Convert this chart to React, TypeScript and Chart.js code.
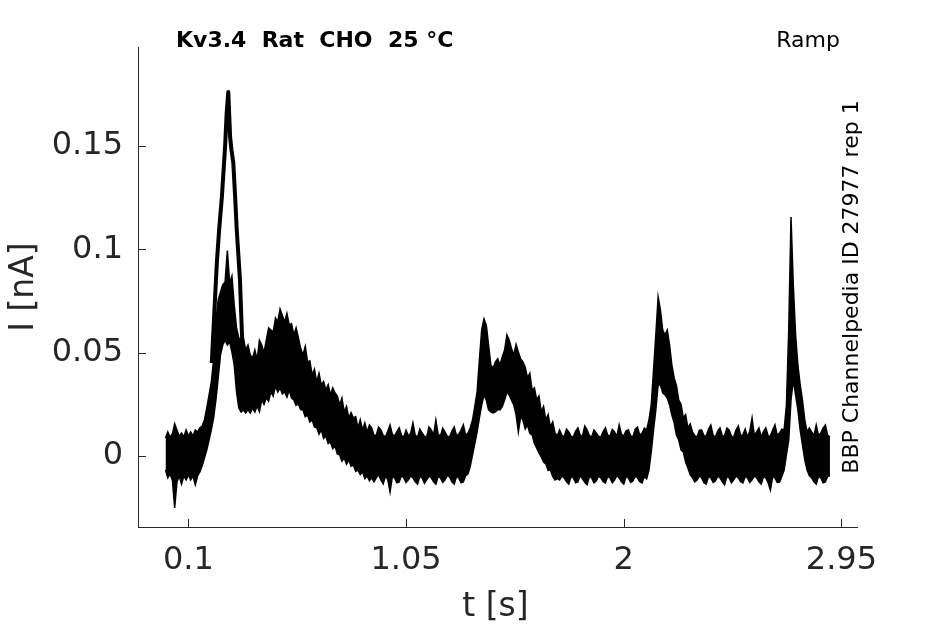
import { useEffect, useRef } from "react";
import { Chart, registerables } from "chart.js";

Chart.register(...registerables);

// ---- data ----
// sample times [s]
const time = [
  0.0, 0.01, 0.02, 0.03, 0.04, 0.05, 0.06, 0.07, 0.08, 0.09,
  0.1, 0.11, 0.12, 0.13, 0.14, 0.15, 0.16, 0.17, 0.18, 0.19,
  0.2, 0.21, 0.22, 0.23, 0.24, 0.25, 0.26, 0.27, 0.28, 0.29,
  0.3, 0.31, 0.32, 0.33, 0.34, 0.35, 0.36, 0.37, 0.38, 0.39,
  0.4, 0.41, 0.42, 0.43, 0.44, 0.45, 0.46, 0.47, 0.48, 0.49,
  0.5, 0.51, 0.52, 0.53, 0.54, 0.55, 0.56, 0.57, 0.58, 0.59,
  0.6, 0.61, 0.62, 0.63, 0.64, 0.65, 0.66, 0.67, 0.68, 0.69,
  0.7, 0.71, 0.72, 0.73, 0.74, 0.75, 0.76, 0.77, 0.78, 0.79,
  0.8, 0.81, 0.82, 0.83, 0.84, 0.85, 0.86, 0.87, 0.88, 0.89,
  0.9, 0.91, 0.92, 0.93, 0.94, 0.95, 0.96, 0.97, 0.98, 0.99,
  1.0, 1.01, 1.02, 1.03, 1.04, 1.05, 1.06, 1.07, 1.08, 1.09,
  1.1, 1.11, 1.12, 1.13, 1.14, 1.15, 1.16, 1.17, 1.18, 1.19,
  1.2, 1.21, 1.22, 1.23, 1.24, 1.25, 1.26, 1.27, 1.28, 1.29,
  1.3, 1.31, 1.32, 1.33, 1.34, 1.35, 1.36, 1.37, 1.38, 1.39,
  1.4, 1.41, 1.42, 1.43, 1.44, 1.45, 1.46, 1.47, 1.48, 1.49,
  1.5, 1.51, 1.52, 1.53, 1.54, 1.55, 1.56, 1.57, 1.58, 1.59,
  1.6, 1.61, 1.62, 1.63, 1.64, 1.65, 1.66, 1.67, 1.68, 1.69,
  1.7, 1.71, 1.72, 1.73, 1.74, 1.75, 1.76, 1.77, 1.78, 1.79,
  1.8, 1.81, 1.82, 1.83, 1.84, 1.85, 1.86, 1.87, 1.88, 1.89,
  1.9, 1.91, 1.92, 1.93, 1.94, 1.95, 1.96, 1.97, 1.98, 1.99,
  2.0, 2.01, 2.02, 2.03, 2.04, 2.05, 2.06, 2.07, 2.08, 2.09,
  2.1, 2.11, 2.12, 2.13, 2.14, 2.15, 2.16, 2.17, 2.18, 2.19,
  2.2, 2.21, 2.22, 2.23, 2.24, 2.25, 2.26, 2.27, 2.28, 2.29,
  2.3, 2.31, 2.32, 2.33, 2.34, 2.35, 2.36, 2.37, 2.38, 2.39,
  2.4, 2.41, 2.42, 2.43, 2.44, 2.45, 2.46, 2.47, 2.48, 2.49,
  2.5, 2.51, 2.52, 2.53, 2.54, 2.55, 2.56, 2.57, 2.58, 2.59,
  2.6, 2.61, 2.62, 2.63, 2.64, 2.65, 2.66, 2.67, 2.68, 2.69,
  2.7, 2.71, 2.72, 2.73, 2.74, 2.75, 2.76, 2.77, 2.78, 2.79,
  2.8, 2.81, 2.82, 2.83, 2.84, 2.85, 2.86, 2.87, 2.88, 2.89,
  2.9,
];

// upper envelope of the recorded sweeps [nA]
const upperCurrent = [
  0.0087, 0.0116, 0.0092, 0.0106, 0.0155, 0.0126, 0.0097, 0.0111, 0.0092, 0.0126,
  0.0097, 0.0116, 0.0097, 0.0126, 0.0116, 0.0136, 0.0145, 0.0174, 0.0232, 0.0295,
  0.0358, 0.0465, 0.0658, 0.0755, 0.0794, 0.0828, 0.0842, 0.0995, 0.0837, 0.0871,
  0.0731, 0.062, 0.0571, 0.0561, 0.0571, 0.0513, 0.0537, 0.0489, 0.0474, 0.0513,
  0.0465, 0.056, 0.0537, 0.05, 0.0561, 0.062, 0.061, 0.06, 0.0668, 0.065,
  0.0712, 0.068, 0.0649, 0.069, 0.0634, 0.064, 0.0586, 0.062, 0.0571, 0.052,
  0.0489, 0.053, 0.0455, 0.046, 0.0392, 0.042, 0.0358, 0.04, 0.0344, 0.036,
  0.0319, 0.0345, 0.0295, 0.033, 0.0305, 0.029, 0.0247, 0.028, 0.0213, 0.024,
  0.0184, 0.021, 0.0184, 0.019, 0.0136, 0.0175, 0.0126, 0.016, 0.0116, 0.015,
  0.0136, 0.0098, 0.0102, 0.014, 0.0126, 0.01, 0.0092, 0.012, 0.015, 0.0105,
  0.0097, 0.0118, 0.0136, 0.01, 0.0092, 0.0125, 0.0097, 0.011, 0.016, 0.01,
  0.0092, 0.013, 0.0111, 0.0095, 0.0092, 0.014, 0.0126, 0.01, 0.0174, 0.0105,
  0.0097, 0.0135, 0.0116, 0.0095, 0.0092, 0.012, 0.014, 0.0098, 0.0106, 0.0125,
  0.015, 0.01, 0.0111, 0.0135, 0.0174, 0.024, 0.031, 0.0465, 0.061, 0.0663,
  0.0634, 0.0537, 0.044, 0.0426, 0.0455, 0.047, 0.044, 0.048, 0.0513, 0.0586,
  0.0561, 0.052, 0.0489, 0.054, 0.0503, 0.047, 0.0455, 0.043, 0.0378, 0.04,
  0.0319, 0.033, 0.0271, 0.029, 0.0213, 0.024, 0.0174, 0.02, 0.014, 0.0165,
  0.0111, 0.0098, 0.0126, 0.01, 0.0092, 0.013, 0.0116, 0.0095, 0.0092, 0.012,
  0.0136, 0.01, 0.0097, 0.0145, 0.0126, 0.0098, 0.0092, 0.0125, 0.0111, 0.0095,
  0.0092, 0.0118, 0.0136, 0.01, 0.0097, 0.0128, 0.0116, 0.0095, 0.015, 0.0105,
  0.0097, 0.012, 0.0126, 0.0098, 0.0092, 0.013, 0.014, 0.01, 0.0111, 0.0135,
  0.0126, 0.0174, 0.0247, 0.0416, 0.0586, 0.077, 0.0707, 0.061, 0.0586, 0.061,
  0.0537, 0.044, 0.0378, 0.034, 0.0271, 0.025, 0.0184, 0.02, 0.0136, 0.0155,
  0.0116, 0.0098, 0.0092, 0.0125, 0.0126, 0.0098, 0.0097, 0.013, 0.015, 0.01,
  0.0092, 0.012, 0.0136, 0.0098, 0.0097, 0.0135, 0.0126, 0.0095, 0.0092, 0.0125,
  0.0145, 0.01, 0.0102, 0.013, 0.0092, 0.012, 0.0184, 0.01, 0.0116, 0.0135,
  0.0092, 0.0118, 0.0136, 0.0098, 0.0097, 0.0125, 0.015, 0.01, 0.0111, 0.013,
  0.0126, 0.0247, 0.061, 0.1157, 0.0828, 0.0586, 0.044, 0.0344, 0.0271, 0.0174,
  0.0116, 0.0135, 0.0116, 0.0098, 0.015, 0.01, 0.0111, 0.0135, 0.015, 0.01,
  0.0092,
];

// lower envelope of the recorded sweeps [nA]
const lowerCurrent = [
  -0.0068, -0.0106, -0.0087, -0.0116, -0.0252, -0.0126, -0.0097, -0.0136, -0.0097, -0.0116,
  -0.0092, -0.0116, -0.0097, -0.014, -0.0097, -0.0077, -0.0048, -0.001, 0.0029, 0.0077,
  0.0126, 0.0184, 0.0271, 0.0378, 0.0489, 0.0537, 0.0561, 0.0537, 0.0552, 0.0503,
  0.044, 0.031, 0.0232, 0.0213, 0.0223, 0.0208, 0.0223, 0.0208, 0.0232, 0.0213,
  0.0242, 0.0215, 0.0271, 0.025, 0.0281, 0.0265, 0.031, 0.029, 0.0339, 0.031,
  0.0329, 0.03, 0.031, 0.0285, 0.0319, 0.028, 0.0271, 0.0245, 0.0252, 0.0225,
  0.0223, 0.019, 0.0198, 0.0165, 0.0174, 0.014, 0.0136, 0.0105, 0.0126, 0.0085,
  0.0097, 0.006, 0.0068, 0.0035, 0.0048, 0.001, 0.0005, -0.0025, -0.001, -0.004,
  -0.0019, -0.005, -0.0044, -0.0075, -0.0068, -0.009, -0.0077, -0.011, -0.0097, -0.012,
  -0.0106, -0.0125, -0.0106, -0.009, -0.0116, -0.0135, -0.0097, -0.0115, -0.0174, -0.01,
  -0.0106, -0.013, -0.0126, -0.0095, -0.0106, -0.0128, -0.0116, -0.0098, -0.0106, -0.0125,
  -0.0136, -0.01, -0.0106, -0.0132, -0.0116, -0.0098, -0.0106, -0.0125, -0.0136, -0.01,
  -0.0106, -0.0128, -0.0116, -0.0095, -0.0102, -0.0125, -0.0136, -0.01, -0.0106, -0.013,
  -0.0126, -0.0095, -0.0087, -0.005, 0.0005, 0.006, 0.0116, 0.0184, 0.0247, 0.0295,
  0.0271, 0.0223, 0.0213, 0.0208, 0.0213, 0.0225, 0.0223, 0.024, 0.0271, 0.031,
  0.0295, 0.027, 0.0247, 0.02, 0.0116, 0.019, 0.0174, 0.013, 0.015, 0.011,
  0.0102, 0.006, 0.0039, 0.0015, -0.0005, -0.003, -0.0039, -0.007, -0.0068, -0.01,
  -0.0116, -0.011, -0.0116, -0.0098, -0.0106, -0.0125, -0.0136, -0.01, -0.0106, -0.013,
  -0.0126, -0.0095, -0.0111, -0.0128, -0.014, -0.01, -0.0106, -0.013, -0.0121, -0.0098,
  -0.0106, -0.0125, -0.0131, -0.01, -0.0106, -0.013, -0.0116, -0.0095, -0.0106, -0.0125,
  -0.0136, -0.01, -0.0106, -0.0128, -0.0121, -0.0098, -0.0106, -0.0125, -0.0131, -0.01,
  -0.0111, -0.0068, 0.0019, 0.0126, 0.0223, 0.0344, 0.0344, 0.0305, 0.0295, 0.0281,
  0.0247, 0.0198, 0.016, 0.01, 0.0077, 0.003, 0.0019, -0.003, -0.0058, -0.009,
  -0.0106, -0.0125, -0.0116, -0.0098, -0.0106, -0.013, -0.0136, -0.01, -0.0106, -0.0128,
  -0.0121, -0.0098, -0.0106, -0.0125, -0.014, -0.01, -0.0106, -0.013, -0.0116, -0.0098,
  -0.0106, -0.0125, -0.0131, -0.01, -0.0106, -0.0128, -0.0116, -0.0098, -0.0106, -0.0125,
  -0.0136, -0.01, -0.0106, -0.013, -0.0165, -0.01, -0.0106, -0.0128, -0.0126, -0.01,
  -0.0068, 0.0005, 0.0077, 0.0271, 0.0368, 0.0295, 0.0223, 0.0126, 0.0053, -0.0019,
  -0.0068, -0.0095, -0.0106, -0.0125, -0.0136, -0.01, -0.0106, -0.013, -0.0126, -0.0098,
  -0.0097,
];

// second sweep: tall transient near 0.27 s
const spikeTime = [
  0.202, 0.213, 0.224, 0.234, 0.246, 0.26, 0.267, 0.274, 0.282, 0.288,
  0.296, 0.304, 0.311, 0.325, 0.333, 0.341,
];
const spikeCurrent = [
  0.045, 0.0692, 0.0934, 0.1094, 0.1253, 0.1496, 0.166, 0.1762, 0.1544, 0.1481,
  0.1418, 0.1254, 0.1094, 0.0852, 0.061, 0.0368,
];

const xTicks = [0.1, 1.05, 2, 2.95];
const xTickLabels = ["0.1", "1.05", "2", "2.95"];
const yTicks = [0, 0.05, 0.1, 0.15];
const yTickLabels = ["0", "0.05", "0.1", "0.15"];

const titleText = "Kv3.4  Rat  CHO  25 °C";
const protocolText = "Ramp";
const sourceText = "BBP Channelpedia ID 27977 rep 1";
const xTitle = "t [s]";
const yTitle = "I [nA]";

const FONT = "'DejaVu Sans', sans-serif";
const AXIS_COLOR = "#262626";

const overlayPlugin = {
  id: "overlay",
  afterDraw(chart: any) {
    const { ctx, chartArea: a, scales } = chart;
    const xs = scales.x;
    const ys = scales.y;
    ctx.save();
    // inward tick marks
    ctx.strokeStyle = AXIS_COLOR;
    ctx.lineWidth = 1;
    ctx.beginPath();
    xTicks.forEach((v) => {
      const p = Math.round(xs.getPixelForValue(v)) + 0.5;
      ctx.moveTo(p, a.bottom);
      ctx.lineTo(p, a.bottom - 8);
    });
    yTicks.forEach((v) => {
      const p = Math.round(ys.getPixelForValue(v)) + 0.5;
      ctx.moveTo(a.left, p);
      ctx.lineTo(a.left + 8, p);
    });
    ctx.stroke();

    // title (bold, left)
    ctx.fillStyle = "#000";
    ctx.textBaseline = "alphabetic";
    ctx.font = `bold 22px ${FONT}`;
    ctx.textAlign = "left";
    ctx.fillText(titleText, a.left + 38, 46.5);
    // protocol (right)
    ctx.font = `22px ${FONT}`;
    ctx.textAlign = "right";
    ctx.fillText(protocolText, a.right - 17, 46.5);
    // source (rotated, right side)
    ctx.save();
    ctx.translate(a.right + 0.5, (a.top + a.bottom) / 2);
    ctx.rotate(-Math.PI / 2);
    ctx.textAlign = "center";
    ctx.fillText(sourceText, 0, 0);
    ctx.restore();

    // axis titles
    ctx.fillStyle = AXIS_COLOR;
    ctx.font = `33px ${FONT}`;
    ctx.textAlign = "center";
    ctx.fillText(xTitle, (a.left + a.right) / 2 - 2, 615.5);
    ctx.save();
    ctx.translate(33, (a.top + a.bottom) / 2);
    ctx.rotate(-Math.PI / 2);
    ctx.fillText(yTitle, 0, 0);
    ctx.restore();

    ctx.restore();
  },
};

export default function App() {
  const canvasRef = useRef<HTMLCanvasElement | null>(null);

  useEffect(() => {
    const canvas = canvasRef.current;
    if (!canvas) return;
    const upperPts = time.map((t, i) => ({ x: t, y: upperCurrent[i] }));
    const lowerPts = time.map((t, i) => ({ x: t, y: lowerCurrent[i] }));
    const spikePts = spikeTime.map((t, i) => ({ x: t, y: spikeCurrent[i] }));

    const tickFont = { family: FONT, size: 32 };

    const chart = new Chart(canvas, {
      type: "line",
      data: {
        datasets: [
          {
            data: lowerPts,
            borderColor: "#000",
            borderWidth: 1.5,
            pointRadius: 0,
            fill: false,
            tension: 0,
          },
          {
            data: upperPts,
            borderColor: "#000",
            backgroundColor: "#000",
            borderWidth: 1.5,
            pointRadius: 0,
            fill: "-1",
            tension: 0,
          },
          {
            data: spikePts,
            borderColor: "#000",
            borderWidth: 4,
            pointRadius: 0,
            fill: false,
            tension: 0,
            borderJoinStyle: "round",
          },
        ],
      },
      options: {
        animation: false,
        responsive: true,
        maintainAspectRatio: false,
        layout: { padding: { top: 47, right: 88, left: 0, bottom: 0 } },
        plugins: {
          legend: { display: false },
          tooltip: { enabled: false },
          title: { display: false },
        },
        scales: {
          x: {
            type: "linear",
            min: -0.12,
            max: 3.018,
            afterBuildTicks: (s: any) => {
              s.ticks = xTicks.map((v) => ({ value: v }));
            },
            afterFit: (s: any) => {
              s.height = 97;
            },
            ticks: {
              autoSkip: false,
              maxRotation: 0,
              minRotation: 0,
              padding: 14,
              color: AXIS_COLOR,
              font: tickFont,
              callback: (_v: any, i: number) => xTickLabels[i],
            },
            grid: { display: false, drawTicks: false },
            border: { display: true, color: AXIS_COLOR, width: 1 },
          },
          y: {
            type: "linear",
            min: -0.0344,
            max: 0.198,
            afterBuildTicks: (s: any) => {
              s.ticks = yTicks.map((v) => ({ value: v }));
            },
            afterFit: (s: any) => {
              s.width = 138;
            },
            ticks: {
              autoSkip: false,
              padding: 15,
              color: AXIS_COLOR,
              font: tickFont,
              callback: (_v: any, i: number) => yTickLabels[i],
            },
            grid: { display: false, drawTicks: false },
            border: { display: true, color: AXIS_COLOR, width: 1 },
          },
        },
      },
      plugins: [overlayPlugin],
    } as any);

    return () => chart.destroy();
  }, []);

  return (
    <div
      style={{
        position: "absolute",
        left: 0,
        top: 0,
        width: "945px",
        height: "624px",
        background: "#fff",
      }}
    >
      <canvas ref={canvasRef} />
    </div>
  );
}
